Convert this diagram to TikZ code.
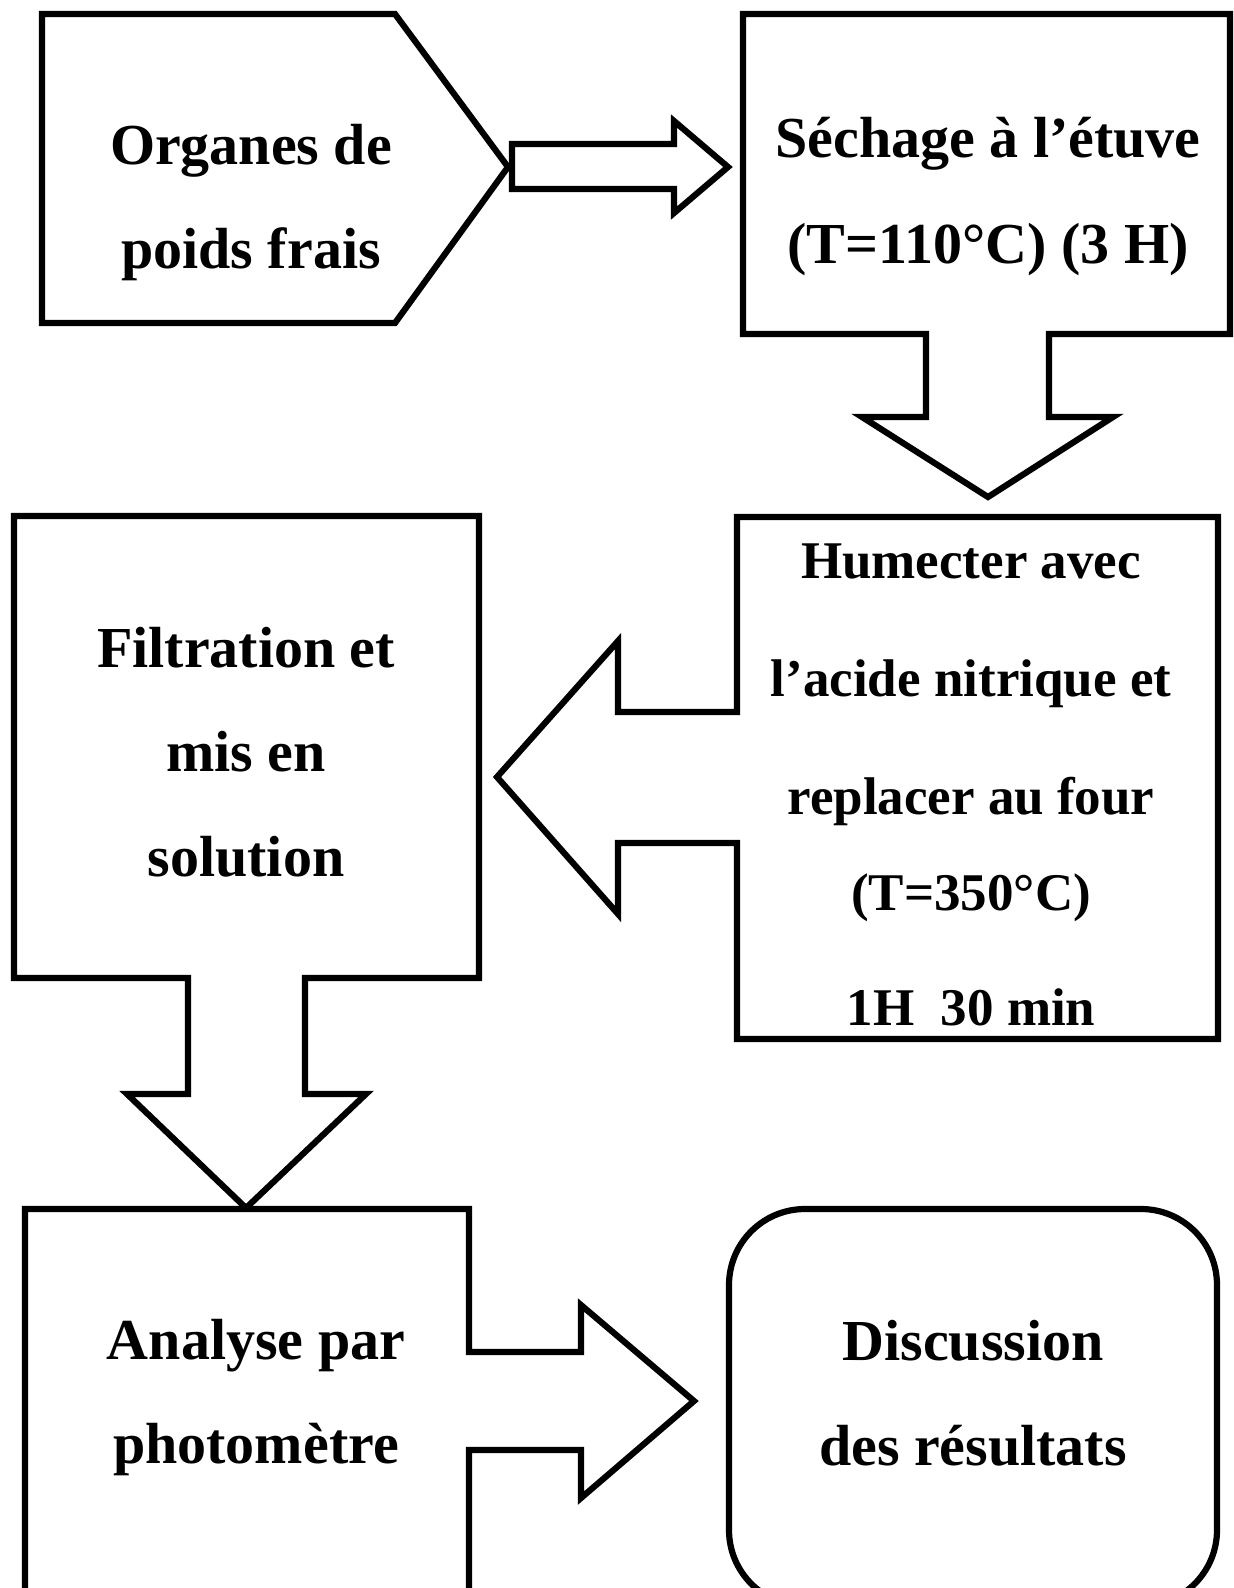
\documentclass[tikz,border=0pt]{standalone}
\usepackage{fontspec}
\setmainfont{Liberation Serif}
\begin{document}
\begin{tikzpicture}[x=1pt,y=-1pt,
  shapeline/.style={draw=black,line width=6.2pt,fill=white},
  bigtxt/.style={anchor=base,inner sep=0pt,font=\fontsize{58}{70}\selectfont\bfseries},
  midtxt/.style={anchor=base,inner sep=0pt,font=\fontsize{53}{64}\selectfont\bfseries}]
\useasboundingbox (0,0) rectangle (1234,1588);
\clip (0,0) rectangle (1234,1588);
\fill[white] (0,0) rectangle (1234,1588);
% pentagon
\draw[shapeline] (42,14) -- (395,14) -- (508,167) -- (395,323) -- (42,323) -- cycle;
% arrow 1
\draw[shapeline] (512,144) -- (674,144) -- (674,121) -- (728,167) -- (674,213) -- (674,189) -- (512,189) -- cycle;
% box 2 with down arrow
\draw[shapeline] (743,14) -- (1230,14) -- (1230,334) -- (1049,334) -- (1049,417) -- (1113,417) -- (988,497) -- (862,417) -- (926,417) -- (926,334) -- (743,334) -- cycle;
% box 3 with left arrow
\draw[shapeline] (737,517) -- (1218,517) -- (1218,1039) -- (737,1039) -- (737,843) -- (618,843) -- (618,914) -- (497,777) -- (618,641) -- (618,712) -- (737,712) -- cycle;
% box 4 with down arrow
\draw[shapeline] (14,516) -- (479,516) -- (479,978) -- (305,978) -- (305,1094) -- (366,1094) -- (246,1208) -- (127,1094) -- (188,1094) -- (188,978) -- (14,978) -- cycle;
% box 5 with right arrow
\draw[shapeline] (25,1620) -- (25,1209) -- (469,1209) -- (469,1352) -- (581,1352) -- (581,1305) -- (694,1401) -- (581,1498) -- (581,1450) -- (469,1450) -- (469,1620);
% box 6 rounded
\draw[shapeline,rounded corners=76pt] (729,1209) rectangle (1217,1606);
% texts
\node[bigtxt] (t1a) at (251,164) {Organes de};
\node[bigtxt] (t1b) at (251,268) {poids frais};
\node[bigtxt] (t2a) at (988,157) {Séchage à l’étuve};
\node[bigtxt] (t2b) at (988,263) {(T=110°C) (3 H)};
\node[midtxt] (t3a) at (971,578) {Humecter avec};
\node[midtxt] (t3b) at (971,696) {l’acide nitrique et};
\node[midtxt] (t3c) at (971,814) {replacer au four};
\node[midtxt] (t3d) at (971,910) {(T=350°C)};
\node[midtxt] (t3e) at (971,1025) {1H~~30 min};
\node[bigtxt] (t4a) at (246,667) {Filtration et};
\node[bigtxt] (t4b) at (246,771) {mis en};
\node[bigtxt] (t4c) at (246,876) {solution};
\node[bigtxt] (t5a) at (256,1359) {Analyse par};
\node[bigtxt] (t5b) at (256,1463) {photomètre};
\node[bigtxt] (t6a) at (973,1360) {Discussion};
\node[bigtxt] (t6b) at (973,1465) {des résultats};
\end{tikzpicture}
\end{document}
